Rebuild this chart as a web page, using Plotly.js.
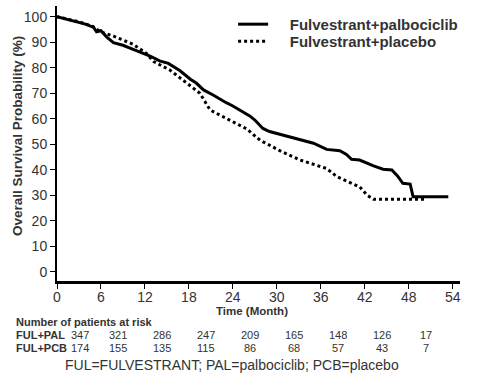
<!DOCTYPE html>
<html><head><meta charset="utf-8">
<script src="https://cdn.plot.ly/plotly-3.0.1.min.js"></script>
<style>html,body{margin:0;padding:0;background:#fff}#chart{width:490px;height:375px}</style>
</head><body><div id="chart"></div>
<script>
// Kaplan-Meier curves (month, overall survival %)
const palMonths = [0,2,4,5,5.4,6,6.8,7.7,9,10.4,12,12.7,14,15.2,16.8,18.2,19,20,21.3,22,23.1,24,25,26.3,27,28.1,29,30.9,33,35,36.8,38.6,39.5,40.2,41.3,42.3,43.2,44.5,45.7,46.5,47.2,48.2,48.4,48.6,50,53.4];
const palSurv   = [100,98.5,97,95.8,94.1,94.5,92,89.8,88.8,87.2,85.5,84.6,82.7,81.7,78.8,75.5,74,71.3,69.3,68,66.3,65,63.4,61.1,59.5,56.2,55,53.6,52,50.4,48,47.5,46,44.1,43.8,42.5,41.5,40.2,39.9,37.5,34.7,34.4,31.4,29.4,29.4,29.4];
const pcbMonths = [0,3,4.95,5.9,7.7,10.4,12.2,13.2,15.4,18.1,19.5,20.9,23.1,25.9,27.7,30.4,33.2,36.8,38.2,40.4,41.3,42.3,43.2,46,50.2];
const pcbSurv   = [100,98,96.1,94.1,92.4,89.2,85.6,82.4,79.1,73.2,70,63.4,60.2,56,51.6,47.5,43.8,40.5,37.3,34.4,33.3,30.1,28.4,28.4,28.4];

const seriesNames = ['Fulvestrant+palbociclib','Fulvestrant+placebo'];
const xTicks = [0,6,12,18,24,30,36,42,48,54];
const yTicks = [0,10,20,30,40,50,60,70,80,90,100];

// Number at risk
const riskTimes = [0,6,12,18,24,30,36,42,48];
const riskPAL = [347,321,286,247,209,165,148,126,17];
const riskPCB = [174,155,135,115,86,68,57,43,7];
const riskLabels = ['FUL+PAL','FUL+PCB'];
const riskHeader = 'Number of patients at risk';
const footnote = 'FUL=FULVESTRANT; PAL=palbociclib; PCB=placebo';
const xTitle = 'Time (Month)';
const yTitle = 'Overall Survival Probability (%)';

const FONT = '"Liberation Sans", Arial, Helvetica, sans-serif';
const TXT = '#333333';
const sp = '&nbsp;&nbsp;&nbsp;&nbsp;';

const traces = [
  {x: palMonths, y: palSurv, mode:'lines', name: sp + '<b>' + seriesNames[0] + '</b>', legend:'legend',
   line:{color:'#000', width:3, shape:'linear'}},
  {x: pcbMonths, y: pcbSurv, mode:'lines', name: sp + '<b>' + seriesNames[1] + '</b>', legend:'legend2',
   line:{color:'#000', width:3, dash:'dot', shape:'linear'}}
];

const ann = [];
ann.push({text:'<b>'+xTitle+'</b>', xref:'paper', yref:'paper', x:0.485, y:0, xanchor:'center', yanchor:'middle', yshift:-29.5, showarrow:false, font:{size:11.5, color:TXT}});
ann.push({text:'<b>'+yTitle+'</b>', xref:'paper', yref:'paper', x:0, y:0.527, xanchor:'center', yanchor:'middle', xshift:-40, textangle:-90, showarrow:false, font:{size:13.5, color:TXT}});
ann.push({text:'<b>'+riskHeader+'</b>', xref:'paper', yref:'paper', x:0, y:0, xanchor:'left', yanchor:'middle', xshift:-43, yshift:-41, showarrow:false, font:{size:11, color:TXT}});
const rows = [riskPAL, riskPCB];
rows.forEach((vals, r) => {
  const ys = -54 - 13*r;
  ann.push({text:'<b>'+riskLabels[r]+'</b>', xref:'paper', yref:'paper', x:0, y:0, xanchor:'left', yanchor:'middle', xshift:-43, yshift:ys, showarrow:false, font:{size:11, color:TXT}});
  vals.forEach((v,i) => {
    ann.push({text:String(v), xref:'x', yref:'paper', x:riskTimes[i], y:0, xanchor:'center', yanchor:'middle', xshift: i===0 ? 23 : 17, yshift:ys, showarrow:false, font:{size:11, color:TXT}});
  });
});
ann.push({text:footnote, xref:'paper', yref:'paper', x:0.434, y:0, xanchor:'center', yanchor:'middle', yshift:-84, showarrow:false, font:{size:14, color:TXT}});

const legBase = {x:0.437, xanchor:'left', yanchor:'top', bgcolor:'rgba(0,0,0,0)', borderwidth:0,
                 font:{size:15, color:TXT}};
const layout = {
  width:490, height:375,
  margin:{l:57, r:30, t:6, b:94},
  paper_bgcolor:'#fff', plot_bgcolor:'#fff',
  font:{family:FONT, color:TXT},
  showlegend:true,
  legend: Object.assign({}, legBase, {y:0.993}),
  legend2: Object.assign({}, legBase, {y:0.931}),
  xaxis:{range:[0,55], tickvals:xTicks, ticktext:xTicks.map(String), showgrid:false, zeroline:false,
         showline:true, linecolor:'#000', linewidth:3, ticks:'outside', ticklen:5, tickwidth:1, tickcolor:'#000',
         ticklabelstandoff:-4, tickfont:{size:14, color:TXT}},
  yaxis:{range:[-3.6,104.2], tickvals:yTicks, ticktext:yTicks.map(String), showgrid:false, zeroline:false,
         showline:true, linecolor:'#000', linewidth:2, ticks:'outside', ticklen:5, tickwidth:1, tickcolor:'#000',
         tickfont:{size:14, color:TXT}},
  annotations: ann
};
Plotly.newPlot('chart', traces, layout, {displayModeBar:false, staticPlot:true});
</script></body></html>
